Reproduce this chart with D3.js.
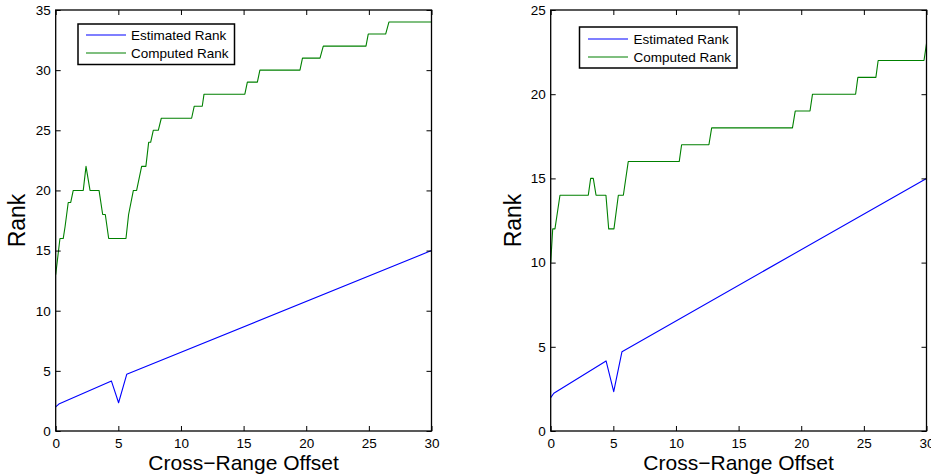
<!DOCTYPE html>
<html>
<head>
<meta charset="utf-8">
<script src="https://cdn.jsdelivr.net/npm/d3@7"></script>
<style>
  html, body { margin: 0; padding: 0; background: #fff; }
  svg { display: block; font-family: "Liberation Sans", Arial, Helvetica, sans-serif; }
</style>
</head>
<body>
<svg id="chart" width="931" height="476"></svg>
<script>
// ---------- data ----------
const xTicks = [0, 5, 10, 15, 20, 25, 30];
const yTicksLeft = [0, 5, 10, 15, 20, 25, 30, 35];
const yTicksRight = [0, 5, 10, 15, 20, 25];
const seriesNames = ["Estimated Rank", "Computed Rank"];
const xLabel = "Cross\u2212Range Offset";
const yLabel = "Rank";

// Left panel
const estLeftX = [0, 0.25, 4.45, 5.02, 5.67, 30];
const estLeftY = [2.0, 2.24, 4.15, 2.35, 4.71, 15.0];
const compLeftX = [0, 0.34, 0.6, 0.75, 1.0, 1.2, 1.4, 2.2, 2.42, 2.74, 3.46, 3.75, 3.96, 4.23, 5.61, 5.82, 6.2, 6.46, 6.86, 7.2, 7.42, 7.58, 7.79, 8.19, 8.43, 10.85, 11.06, 11.7, 11.84, 15.1, 15.3, 16.1, 16.3, 19.5, 19.7, 21.1, 21.36, 24.77, 24.95, 26.34, 26.6, 30];
const compLeftY = [13, 16, 16, 17, 19, 19, 20, 20, 22, 20, 20, 18, 18, 16, 16, 18, 20, 20, 22, 22, 24, 24, 25, 25, 26, 26, 27, 27, 28, 28, 29, 29, 30, 30, 31, 31, 32, 32, 33, 33, 34, 34];

// Right panel
const estRightX = [0, 0.25, 4.42, 5.03, 5.69, 30];
const estRightY = [1.98, 2.24, 4.16, 2.34, 4.71, 15.0];
const compRightX = [0, 0.16, 0.34, 0.74, 3.0, 3.19, 3.4, 3.62, 4.41, 4.63, 5.05, 5.4, 5.8, 6.19, 10.26, 10.45, 12.63, 12.85, 19.3, 19.52, 20.7, 20.9, 24.34, 24.52, 25.96, 26.14, 29.8, 30];
const compRightY = [10, 12, 12, 14, 14, 15, 15, 14, 14, 12, 12, 14, 14, 16, 16, 17, 17, 18, 18, 19, 19, 20, 20, 21, 21, 22, 22, 23];

// ---------- drawing ----------
const svg = d3.select("#chart");
const colors = ["#0000ff", "#008000"];

function zip(xs, ys) { return xs.map((x, i) => [x, ys[i]]); }

function panel(cfg) {
  const x = d3.scaleLinear().domain([0, 30]).range([cfg.left, cfg.right]);
  const y = d3.scaleLinear().domain([0, cfg.ymax]).range([cfg.bottom, cfg.top]);
  const g = svg.append("g");

  // lines
  const line = d3.line().x(d => x(d[0])).y(d => y(d[1]));
  const series = [zip(cfg.estX, cfg.estY), zip(cfg.compX, cfg.compY)];
  series.forEach((s, i) => {
    g.append("path").datum(s).attr("d", line)
      .style("fill", "none").style("stroke", colors[i]).style("stroke-width", 1.1)
      .style("stroke-linejoin", "round");
  });

  const tickLen = 5;
  const ax = g.append("g").attr("transform", `translate(0,${cfg.bottom})`)
    .call(d3.axisBottom(x).tickValues(xTicks).tickFormat(d3.format("d"))
      .tickSizeInner(-tickLen).tickSizeOuter(0).tickPadding(7));
  const axT = g.append("g").attr("transform", `translate(0,${cfg.top})`)
    .call(d3.axisTop(x).tickValues(xTicks).tickFormat("")
      .tickSizeInner(-tickLen).tickSizeOuter(0));
  const ay = g.append("g").attr("transform", `translate(${cfg.left},0)`)
    .call(d3.axisLeft(y).tickValues(cfg.yTicks).tickFormat(d3.format("d"))
      .tickSizeInner(-tickLen).tickSizeOuter(0).tickPadding(5));
  const ayR = g.append("g").attr("transform", `translate(${cfg.right},0)`)
    .call(d3.axisRight(y).tickValues(cfg.yTicks).tickFormat("")
      .tickSizeInner(-tickLen).tickSizeOuter(0));

  [ax, axT, ay, ayR].forEach(a => {
    a.select(".domain").remove();
    a.selectAll("line").attr("stroke", "#000").attr("stroke-width", 1);
    a.selectAll("text").attr("font-size", 13.5).attr("fill", "#000")
      .attr("font-family", "'Liberation Sans', Arial, sans-serif");
  });

  g.append("rect")
    .attr("x", cfg.left).attr("y", cfg.top)
    .attr("width", cfg.right - cfg.left).attr("height", cfg.bottom - cfg.top)
    .attr("fill", "none").attr("stroke", "#000").attr("stroke-width", 1.3);

  g.append("text")
    .attr("x", (cfg.left + cfg.right) / 2).attr("y", 470)
    .attr("text-anchor", "middle").attr("font-size", 21).attr("fill", "#000")
    .text(xLabel);
  g.append("text")
    .attr("transform", `translate(${cfg.ylabX},${(cfg.top + cfg.bottom) / 2}) rotate(-90)`)
    .attr("text-anchor", "middle").attr("font-size", 23).attr("fill", "#000")
    .text(yLabel);

  // legend
  const L = cfg.legend;
  g.append("rect").attr("x", L.x0).attr("y", L.y0)
    .attr("width", L.x1 - L.x0).attr("height", L.y1 - L.y0)
    .attr("fill", "#fff").attr("stroke", "#000").attr("stroke-width", 1.5);
  seriesNames.forEach((name, i) => {
    const yy = L.rows[i];
    g.append("line").attr("x1", L.lx0).attr("x2", L.lx1).attr("y1", yy).attr("y2", yy)
      .style("stroke", colors[i]).style("stroke-width", 1.1);
    g.append("text").attr("x", L.tx).attr("y", yy).attr("dy", "0.35em")
      .attr("font-size", 13.5).attr("fill", "#000").text(name);
  });
}

panel({
  left: 55.7, right: 431.5, top: 10, bottom: 431, ymax: 35, yTicks: yTicksLeft,
  estX: estLeftX, estY: estLeftY, compX: compLeftX, compY: compLeftY,
  ylabX: 25,
  legend: { x0: 78, x1: 234.5, y0: 24, y1: 64.5, lx0: 86, lx1: 126, tx: 131, rows: [35, 53] }
});
panel({
  left: 550.7, right: 926.5, top: 10, bottom: 431, ymax: 25, yTicks: yTicksRight,
  estX: estRightX, estY: estRightY, compX: compRightX, compY: compRightY,
  ylabX: 521,
  legend: { x0: 579.5, x1: 737, y0: 27, y1: 68, lx0: 588, lx1: 628, tx: 633.5, rows: [39, 57] }
});
</script>
</body>
</html>
